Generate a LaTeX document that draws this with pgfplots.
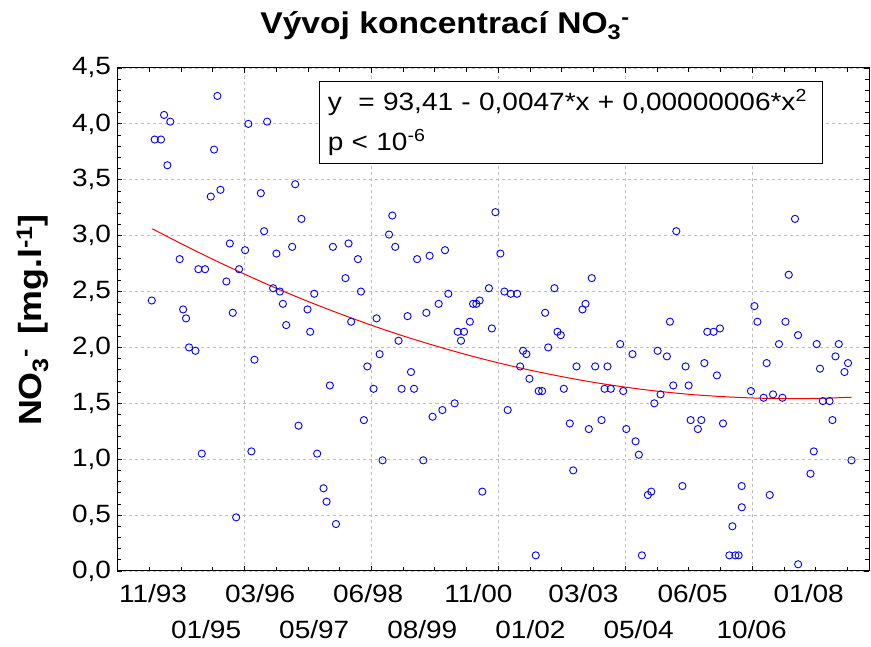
\documentclass[border=0pt]{standalone}
\usepackage{fontspec}
\setmainfont{Liberation Sans}[FakeStretch=1.12]
\usepackage{pgfplots}
\pgfplotsset{compat=1.18}
\definecolor{gridgray}{RGB}{190,190,190}
\pgfplotstableread{
x y
34270 2.42
34293 3.86
34343 3.86
34367 4.08
34393 3.63
34416 4.02
34490 2.79
34517 2.34
34540 2.26
34564 2.00
34614 1.97
34637 2.70
34664 1.05
34690 2.70
34735 3.35
34761 3.77
34787 4.25
34811 3.41
34858 2.59
34885 2.93
34908 2.31
34935 0.48
34958 2.70
35005 2.87
35031 4.00
35055 1.07
35079 1.89
35129 3.38
35155 3.04
35179 4.02
35226 2.53
35252 2.84
35279 2.50
35303 2.39
35329 2.20
35376 2.90
35400 3.46
35426 1.30
35449 3.15
35497 2.34
35518 2.14
35550 2.48
35573 1.05
35623 0.74
35647 0.62
35673 1.66
35697 2.90
35721 0.42
35796 2.62
35820 2.93
35841 2.23
35894 2.79
35918 2.50
35941 1.35
35968 1.83
36017 1.63
36041 2.26
36065 1.94
36088 0.99
36139 3.01
36165 3.18
36188 2.90
36214 2.06
36238 1.63
36285 2.28
36312 1.78
36336 1.63
36360 2.79
36409 0.99
36433 2.31
36459 2.82
36482 1.38
36530 2.39
36559 1.44
36580 2.87
36606 2.48
36656 1.50
36680 2.14
36706 2.06
36730 2.14
36776 2.23
36801 2.39
36827 2.39
36853 2.42
36874 0.71
36926 2.53
36949 2.17
36977 3.21
37016 2.84
37048 2.50
37074 1.44
37098 2.48
37148 2.48
37172 1.83
37195 1.97
37221 1.94
37245 1.72
37295 0.14
37318 1.61
37345 1.61
37369 2.31
37393 2.00
37442 2.53
37466 2.14
37492 2.11
37516 1.63
37563 1.32
37590 0.90
37616 1.83
37663 2.34
37687 2.39
37713 1.27
37736 2.62
37763 1.83
37813 1.35
37837 1.63
37860 1.83
37886 1.63
37960 2.03
37984 1.61
38008 1.27
38057 1.94
38081 1.16
38107 1.04
38131 0.14
38178 0.68
38205 0.71
38229 1.50
38255 1.97
38278 1.58
38328 1.92
38352 2.23
38378 1.66
38402 3.04
38450 0.76
38475 1.83
38499 1.66
38515 1.35
38572 1.27
38599 1.35
38623 1.86
38646 2.14
38696 2.14
38722 1.75
38746 2.17
38770 1.32
38820 0.14
38844 0.40
38867 0.14
38893 0.14
38917 0.76
38918 0.57
38990 1.61
39017 2.37
39041 2.23
39090 1.55
39114 1.86
39138 0.68
39164 1.58
39211 2.03
39238 1.55
39262 2.23
39288 2.65
39337 3.15
39361 2.11
39362 0.06
39459 0.87
39485 1.07
39508 2.03
39534 1.81
39556 1.52
39609 1.52
39632 1.35
39656 1.92
39682 2.03
39727 1.78
39755 1.86
39782 0.99
}\pointsdata
\pgfplotstableread{
x y
34274 3.062
34500 2.929
34750 2.789
35000 2.656
35250 2.530
35500 2.412
35750 2.302
36000 2.199
36250 2.103
36500 2.016
36750 1.935
37000 1.862
37250 1.797
37500 1.739
37750 1.688
38000 1.645
38250 1.609
38500 1.581
38750 1.561
39000 1.548
39250 1.542
39500 1.544
39750 1.553
39782 1.555
}\fitdata
\begin{document}
\begin{tikzpicture}
\begin{axis}[
  name=ax,
  scale only axis,
  width=751.5pt, height=503pt,
  xmin=34000, xmax=39920,
  ymin=0, ymax=4.5,
  scaled x ticks=false,
  scaled y ticks=false,
  axis line style={line width=1pt},
  xtick={35000,36000,37000,38000,39000},
  xticklabels={},
  minor xtick={34250,34500,...,39750},
  ytick={0,0.5,...,4.5},
  yticklabels={{0,0},{0,5},{1,0},{1,5},{2,0},{2,5},{3,0},{3,5},{4,0},{4,5}},
  minor y tick num=4,
  tick align=inside,
  major tick length=5pt, minor tick length=4pt,
  tick style={black, line width=0.8pt},
  grid=major,
  major grid style={gridgray, dash pattern=on 3pt off 3pt, line width=0.8pt},
  tick label style={font=\fontsize{25}{36}\selectfont},
  yticklabel style={xshift=-3pt},
  extra x ticks={34280,34698,35124,35550,35975,36401,36843,37253,37671,38105,38530,38995,39445},
  extra x tick labels={{\strut 11/93},{\strut\\01/95},{\strut 03/96},{\strut\\05/97},{\strut 06/98},{\strut\\08/99},{\strut 11/00},{\strut\\01/02},{\strut 03/03},{\strut\\05/04},{\strut 06/05},{\strut\\10/06},{\strut 01/08}},
  extra x tick style={grid=none, major tick length=0pt, tick label style={align=center, inner sep=0pt, yshift=-6pt}},
  title={Vývoj koncentrací NO\textsubscript{3}\textsuperscript{-}},
  title style={font=\bfseries\fontsize{30}{34}\selectfont, at={(axis description cs:0.4358,1.072)}, anchor=center},
  ylabel={NO\textsubscript{3}\textsuperscript{-}\hspace{0.45em}[mg.l\textsuperscript{-1}]},
  ylabel style={font=\bfseries\fontsize{32}{36}\selectfont, at={(axis description cs:-0.113,0.499)}, anchor=center},
  clip=false,
]
\addplot[only marks, mark=o, mark size=3.6pt, color=blue, mark options={line width=0.9pt}] table[x=x, y=y] {\pointsdata};
\addplot[red, line width=1pt, smooth] table[x=x, y=y] {\fitdata};
\node[draw=black, line width=1pt, fill=white, anchor=north west, inner xsep=8pt, inner ysep=1pt, align=left, text width=487pt, font=\fontsize{25}{40}\selectfont] at (rel axis cs:0.2685,0.9736) {\strut y \ = 93,41 - 0,0047*x + 0,00000006*x\textsuperscript{2}\\ \strut p < 10\textsuperscript{-6}};
\end{axis}
\pgfresetboundingbox
\path[use as bounding box] ([xshift=-117.5pt,yshift=-76pt]ax.south west) rectangle ([xshift=2pt,yshift=68pt]ax.north east);
\end{tikzpicture}
\end{document}
